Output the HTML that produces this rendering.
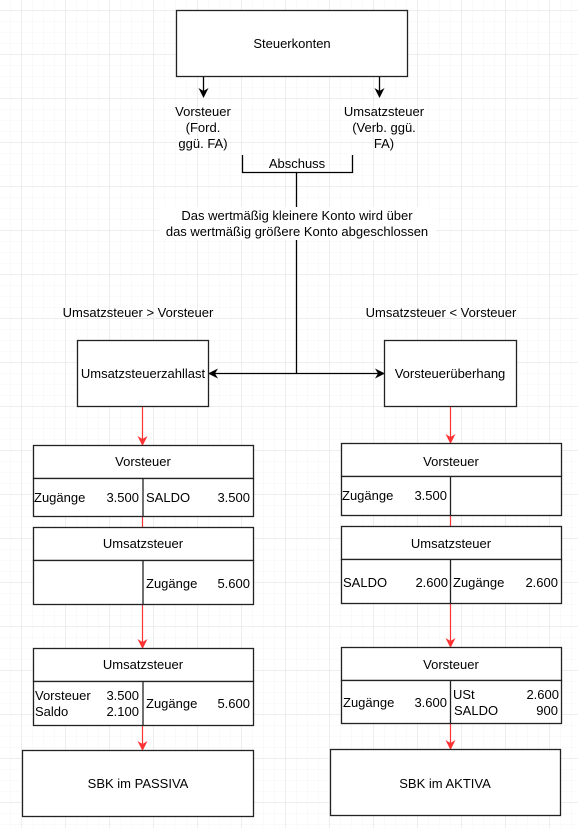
<!DOCTYPE html>
<html><head><meta charset="utf-8"><style>
html,body{margin:0;padding:0;background:#fff;}
svg{display:block;}
text{font-family:"Liberation Sans",Arial,sans-serif;font-size:13px;fill:#000;}
</style></head><body>
<svg width="578" height="828" viewBox="0 0 578 828" xmlns="http://www.w3.org/2000/svg">
<defs>
<pattern id="minor" width="11" height="11" patternUnits="userSpaceOnUse" x="21" y="10">
<path d="M0 0H11M0 0V11" stroke="#f5f5f5" stroke-width="1" fill="none"/>
</pattern>
<pattern id="major" width="44" height="44" patternUnits="userSpaceOnUse" x="21.5" y="10.5">
<path d="M0 0H44M0 0V44" stroke="#e6e6e6" stroke-width="1" fill="none"/>
</pattern>
<marker id="ab" markerWidth="10" markerHeight="10" refX="8" refY="5" orient="auto" markerUnits="userSpaceOnUse">
<path d="M0,0 L10,5 L0,10 L3,5 Z" fill="#000"/></marker>
<marker id="ar" markerWidth="10" markerHeight="10" refX="8" refY="5" orient="auto" markerUnits="userSpaceOnUse">
<path d="M0,0 L10,5 L0,10 L3,5 Z" fill="#ff3333"/></marker>
</defs>
<rect width="578" height="828" fill="url(#minor)"/>
<rect width="578" height="828" fill="url(#major)"/>

<g stroke="#222" stroke-width="1.3" fill="#fff">
<rect x="176.5" y="10.5" width="231" height="66"/>
</g>
<text x="292" y="48" text-anchor="middle">Steuerkonten</text>
<g stroke="#000" stroke-width="1.3" fill="none">
<line x1="203.5" y1="77" x2="203.5" y2="96" marker-end="url(#ab)"/>
<line x1="379.5" y1="77" x2="379.5" y2="96" marker-end="url(#ab)"/>
<path d="M242.5 155V172.5H352.5V155"/>
<line x1="296.5" y1="172" x2="296.5" y2="207"/>
<line x1="296.5" y1="240" x2="296.5" y2="373.5"/>
<line x1="296.5" y1="373.5" x2="210" y2="373.5" marker-end="url(#ab)"/>
<line x1="296.5" y1="373.5" x2="383" y2="373.5" marker-end="url(#ab)"/>
</g>
<text text-anchor="middle"><tspan x="203" y="116">Vorsteuer</tspan><tspan x="203" y="132">(Ford.</tspan><tspan x="203" y="148">ggü. FA)</tspan></text>
<text text-anchor="middle"><tspan x="384" y="116">Umsatzsteuer</tspan><tspan x="384" y="132">(Verb. ggü.</tspan><tspan x="384" y="148">FA)</tspan></text>
<text x="297" y="168" text-anchor="middle">Abschuss</text>
<rect x="160" y="207" width="276" height="33" fill="#fff"/>
<text text-anchor="middle"><tspan x="297" y="220">Das wertmäßig kleinere Konto wird über</tspan><tspan x="297" y="236">das wertmäßig größere Konto abgeschlossen</tspan></text>
<text x="138" y="317" text-anchor="middle">Umsatzsteuer &gt; Vorsteuer</text>
<text x="441" y="317" text-anchor="middle">Umsatzsteuer &lt; Vorsteuer</text>

<g stroke="#222" stroke-width="1.3" fill="#fff">
<rect x="77.5" y="340.5" width="131" height="66"/>
<rect x="384.5" y="340.5" width="132" height="66"/>
</g>
<text x="143" y="378" text-anchor="middle">Umsatzsteuerzahllast</text>
<text x="450" y="378" text-anchor="middle">Vorsteuerüberhang</text>

<g stroke="#ff3333" stroke-width="1.2" fill="none">
<line x1="142.5" y1="407" x2="142.5" y2="444" marker-end="url(#ar)"/>
<line x1="142.5" y1="516" x2="142.5" y2="527"/>
<line x1="142.5" y1="604" x2="142.5" y2="647" marker-end="url(#ar)"/>
<line x1="142.5" y1="725" x2="142.5" y2="749" marker-end="url(#ar)"/>
<line x1="450.5" y1="407" x2="450.5" y2="442" marker-end="url(#ar)"/>
<line x1="450.5" y1="515" x2="450.5" y2="526"/>
<line x1="450.5" y1="603" x2="450.5" y2="646" marker-end="url(#ar)"/>
<line x1="450.5" y1="723" x2="450.5" y2="748" marker-end="url(#ar)"/>
</g>

<g stroke="#222" stroke-width="1.3" fill="#fff">
<rect x="33.5" y="445.5" width="220" height="33"/><rect x="33.5" y="478.5" width="220" height="38"/><line x1="143" y1="478.5" x2="143" y2="516.5"/>
<rect x="33.5" y="527.5" width="220" height="33"/><rect x="33.5" y="560.5" width="220" height="44"/><line x1="143" y1="560.5" x2="143" y2="604.5"/>
<rect x="33.5" y="648.5" width="220" height="33"/><rect x="33.5" y="681.5" width="220" height="44"/><line x1="143" y1="681.5" x2="143" y2="725.5"/>
<rect x="22.5" y="750.5" width="231" height="66"/>
<rect x="341.5" y="443.5" width="220" height="33"/><rect x="341.5" y="476.5" width="220" height="39"/><line x1="450.5" y1="476.5" x2="450.5" y2="515.5"/>
<rect x="341.5" y="526.5" width="220" height="33"/><rect x="341.5" y="559.5" width="220" height="44"/><line x1="450.5" y1="559.5" x2="450.5" y2="603.5"/>
<rect x="341.5" y="647.5" width="220" height="33"/><rect x="341.5" y="680.5" width="220" height="43"/><line x1="450.5" y1="680.5" x2="450.5" y2="723.5"/>
<rect x="330.5" y="749.5" width="230" height="66"/>
</g>

<text x="143" y="466" text-anchor="middle">Vorsteuer</text>
<text x="34" y="502">Zugänge</text><text x="139" y="502" text-anchor="end">3.500</text>
<text x="146" y="502">SALDO</text><text x="250" y="502" text-anchor="end">3.500</text>
<text x="143" y="548" text-anchor="middle">Umsatzsteuer</text>
<text x="146" y="588">Zugänge</text><text x="250" y="588" text-anchor="end">5.600</text>
<text x="143" y="669" text-anchor="middle">Umsatzsteuer</text>
<text x="35" y="700">Vorsteuer</text><text x="139" y="700" text-anchor="end">3.500</text>
<text x="35" y="716">Saldo</text><text x="139" y="716" text-anchor="end">2.100</text>
<text x="146" y="708">Zugänge</text><text x="250" y="708" text-anchor="end">5.600</text>
<text x="138" y="788" text-anchor="middle">SBK im PASSIVA</text>

<text x="451" y="466" text-anchor="middle">Vorsteuer</text>
<text x="342" y="500">Zugänge</text><text x="447" y="500" text-anchor="end">3.500</text>
<text x="451" y="548" text-anchor="middle">Umsatzsteuer</text>
<text x="343" y="587">SALDO</text><text x="448" y="587" text-anchor="end">2.600</text>
<text x="453" y="587">Zugänge</text><text x="558" y="587" text-anchor="end">2.600</text>
<text x="451" y="669" text-anchor="middle">Vorsteuer</text>
<text x="343" y="707">Zugänge</text><text x="447" y="707" text-anchor="end">3.600</text>
<text x="453" y="699">USt</text><text x="559" y="699" text-anchor="end">2.600</text>
<text x="454" y="715">SALDO</text><text x="558" y="715" text-anchor="end">900</text>
<text x="445" y="788" text-anchor="middle">SBK im AKTIVA</text>
</svg>
</body></html>
